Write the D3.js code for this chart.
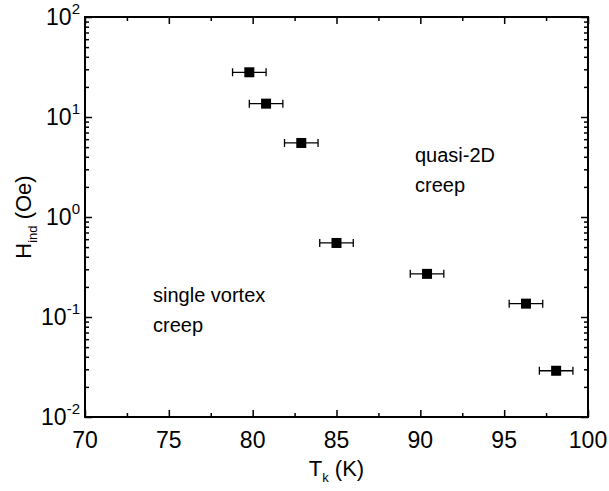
<!DOCTYPE html>
<html>
<head>
<meta charset="utf-8">
<script src="https://cdn.jsdelivr.net/npm/d3@7"></script>
<style>
  body { margin: 0; background: #fff; }
  text { font-family: Arial, "Liberation Sans", sans-serif; fill: #000; }
</style>
</head>
<body>
<svg width="609" height="491"></svg>
<script>
// data
var tempK = [79.8, 80.8, 82.9, 85.0, 90.4, 96.3, 98.1];
var hInd  = [28, 13.6, 5.5, 0.55, 0.27, 0.136, 0.029];
var tErr  = [1, 1, 1, 1, 1, 1, 1];

var xMajor = [70, 75, 80, 85, 90, 95, 100];
var xMinor = [72.5, 77.5, 82.5, 87.5, 92.5, 97.5];
var yExp = [-2, -1, 0, 1, 2];

var svg = d3.select("svg"),
    margin = {top: 17, right: 21, bottom: 74, left: 85},
    width = 609 - margin.left - margin.right,
    height = 491 - margin.top - margin.bottom;

var g = svg.append("g")
    .attr("transform", "translate(" + margin.left + "," + margin.top + ")");

var x = d3.scaleLinear().domain([70, 100]).range([0, width]);
var y = d3.scaleLog().domain([0.01, 100]).range([height, 0]);

// minor log ticks 2..9 in each decade
var yMinor = [];
yExp.slice(0, -1).forEach(function(e) {
  for (var k = 2; k <= 9; k++) yMinor.push(k * Math.pow(10, e));
});
var yMajor = yExp.map(function(e) { return Math.pow(10, e); });

function tickAxis(axis, tr) {
  var a = g.append("g").attr("transform", tr).call(axis);
  a.select(".domain").remove();
  a.selectAll("text").remove();
  a.selectAll("line").attr("stroke", "#000").attr("stroke-width", 1.5);
}

// inward ticks on all four sides
tickAxis(d3.axisBottom(x).tickValues(xMajor).tickSize(-7), "translate(0," + height + ")");
tickAxis(d3.axisBottom(x).tickValues(xMinor).tickSize(-4), "translate(0," + height + ")");
tickAxis(d3.axisTop(x).tickValues(xMajor).tickSize(-7), "translate(0,0)");
tickAxis(d3.axisTop(x).tickValues(xMinor).tickSize(-4), "translate(0,0)");
tickAxis(d3.axisLeft(y).tickValues(yMajor).tickSize(-7), "translate(0,0)");
tickAxis(d3.axisLeft(y).tickValues(yMinor).tickSize(-4), "translate(0,0)");
tickAxis(d3.axisRight(y).tickValues(yMajor).tickSize(-7), "translate(" + width + ",0)");
tickAxis(d3.axisRight(y).tickValues(yMinor).tickSize(-4), "translate(" + width + ",0)");

// frame
g.append("rect")
    .attr("width", width)
    .attr("height", height)
    .attr("fill", "none")
    .attr("stroke", "#000")
    .attr("stroke-width", 2);

// x tick labels
g.selectAll(".xlab")
    .data(xMajor)
  .enter().append("text")
    .attr("x", function(d) { return x(d); })
    .attr("y", height + 31)
    .attr("text-anchor", "middle")
    .style("font-size", "23px")
    .text(function(d) { return d; });

// y tick labels: 10^n
var ylab = g.selectAll(".ylab")
    .data(yExp)
  .enter().append("text")
    .attr("x", -5)
    .attr("y", function(d) { return y(Math.pow(10, d)) + 8; })
    .attr("text-anchor", "end")
    .style("font-size", "23px");
ylab.append("tspan").text("10");
ylab.append("tspan")
    .attr("dy", -11)
    .style("font-size", "15px")
    .text(function(d) { return d; });

// axis titles
var xt = svg.append("text")
    .attr("x", margin.left + width / 2)
    .attr("y", 476)
    .attr("text-anchor", "middle")
    .style("font-size", "22px");
xt.append("tspan").text("T");
xt.append("tspan").attr("dy", 6).style("font-size", "13px").text("k");
xt.append("tspan").attr("dy", -6).text(" (K)");

var yt = svg.append("text")
    .attr("transform", "translate(31," + (margin.top + height / 2) + ") rotate(-90)")
    .attr("text-anchor", "middle")
    .style("font-size", "22px");
yt.append("tspan").text("H");
yt.append("tspan").attr("dy", 6).style("font-size", "13px").text("ind");
yt.append("tspan").attr("dy", -6).text(" (Oe)");

// error bars and markers
var pts = g.selectAll(".pt")
    .data(tempK.map(function(t, i) { return {t: t, h: hInd[i], e: tErr[i]}; }))
  .enter().append("g");

pts.append("line")
    .attr("x1", function(d) { return x(d.t - d.e); })
    .attr("x2", function(d) { return x(d.t + d.e); })
    .attr("y1", function(d) { return y(d.h); })
    .attr("y2", function(d) { return y(d.h); })
    .attr("stroke", "#000")
    .attr("stroke-width", 1.3);

[-1, 1].forEach(function(s) {
  pts.append("line")
      .attr("x1", function(d) { return x(d.t + s * d.e); })
      .attr("x2", function(d) { return x(d.t + s * d.e); })
      .attr("y1", function(d) { return y(d.h) - 4; })
      .attr("y2", function(d) { return y(d.h) + 4; })
      .attr("stroke", "#000")
      .attr("stroke-width", 1.3);
});

pts.append("rect")
    .attr("x", function(d) { return x(d.t) - 5; })
    .attr("y", function(d) { return y(d.h) - 5; })
    .attr("width", 10)
    .attr("height", 10)
    .attr("fill", "#000");

// region annotations
function note(lines, px, py) {
  svg.selectAll(null)
      .data(lines)
    .enter().append("text")
      .attr("x", px)
      .attr("y", function(d, i) { return py + i * 30; })
      .style("font-size", "20px")
      .text(function(d) { return d; });
}
note(["quasi-2D", "creep"], 415, 162);
note(["single vortex", "creep"], 153, 302);
</script>
</body>
</html>
